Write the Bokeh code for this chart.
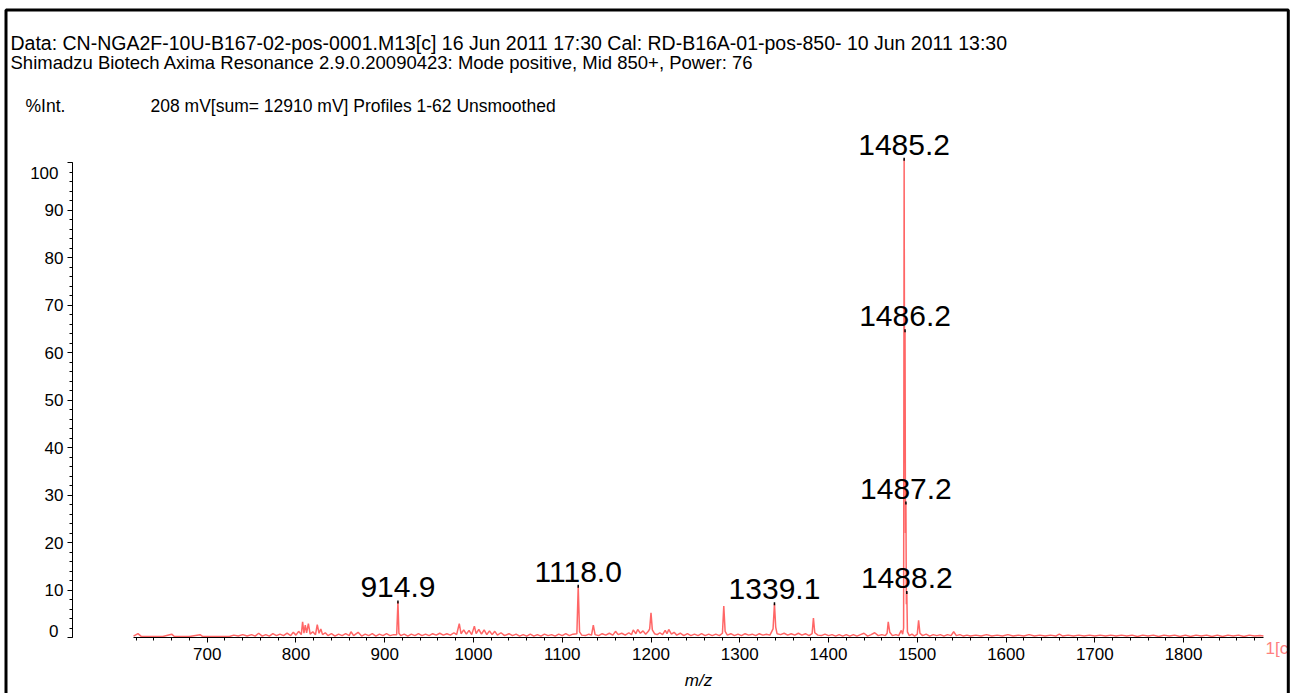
from bokeh.plotting import figure
from bokeh.models import (FixedTicker, Range1d, Label, LabelSet, BoxAnnotation,
                          ColumnDataSource, LinearAxis)
from bokeh.embed import file_html
from bokeh.resources import INLINE
from bokeh.core.properties import value

# ---------------- data ----------------
header_line1 = "Data: CN-NGA2F-10U-B167-02-pos-0001.M13[c] 16 Jun 2011 17:30 Cal: RD-B16A-01-pos-850- 10 Jun 2011 13:30"
header_line2 = "Shimadzu Biotech Axima Resonance 2.9.0.20090423: Mode positive, Mid 850+, Power: 76"
int_label = "%Int."
info_label = "208 mV[sum= 12910 mV]  Profiles 1-62 Unsmoothed"
x_label = "m/z"
corner_label = "1[c"

x_major = [700, 800, 900, 1000, 1100, 1200, 1300, 1400, 1500, 1600, 1700, 1800]
y_major = [0, 10, 20, 30, 40, 50, 60, 70, 80, 90, 100]

# spectrum profile (m/z, %Int.)
mz_a = [617, 622, 626, 640, 650, 660, 663, 680, 692, 695, 710, 725, 730,
        735, 740, 745, 750, 754, 758, 762, 766, 770, 774, 778, 782, 786, 790, 794, 797,
        800, 803, 806, 807.5, 809, 810.5, 812, 814, 816, 819, 822, 824, 826, 828, 830,
        833, 836, 840, 844, 848, 852, 856, 860, 862, 865, 870, 874, 878, 882, 886, 890,
        894, 898, 902, 906, 910, 913.5, 914.9]
int_a = [0.3, 0.8, 0.2, 0.2, 0.2, 0.7, 0.2, 0.2, 0.6, 0.2, 0.2, 0.2, 0.5,
         0.3, 0.6, 0.3, 0.6, 0.3, 0.9, 0.3, 0.6, 0.3, 0.8, 0.4, 0.7, 0.4, 0.9, 0.4, 1.1,
         0.5, 1.3, 0.6, 3.3, 0.9, 2.6, 1.0, 2.9, 0.7, 1.2, 0.6, 2.7, 0.9, 1.8, 0.6,
         1.0, 0.4, 0.8, 0.3, 0.7, 0.4, 0.8, 0.4, 1.2, 0.4, 1.1, 0.3, 0.7, 0.4, 0.8, 0.3,
         0.7, 0.4, 0.8, 0.4, 0.6, 0.6, 7.5]

mz_b = [916, 918, 922, 926, 930, 934, 938, 942, 946, 950, 954, 958, 962, 966, 970, 974,
        978, 981, 984, 986, 989, 992, 995, 998, 1001, 1003, 1006, 1009, 1012, 1015, 1018,
        1021, 1024, 1027, 1031, 1035, 1040, 1044, 1048, 1052, 1056, 1060, 1064, 1068,
        1072, 1076, 1080, 1084, 1088, 1092, 1096, 1100, 1104, 1108, 1112, 1116.5, 1118.0]
int_b = [0.9, 0.4, 0.7, 0.3, 0.7, 0.4, 0.8, 0.4, 0.7, 0.4, 0.8, 0.5, 0.9, 0.5, 0.8, 0.5,
         1.0, 0.6, 2.9, 0.8, 1.6, 0.7, 1.5, 0.6, 2.4, 0.8, 1.7, 0.7, 1.6, 0.6, 1.4,
         0.6, 1.3, 0.5, 1.0, 0.4, 0.8, 0.4, 0.7, 0.3, 0.6, 0.3, 0.7, 0.3,
         0.6, 0.3, 0.7, 0.4, 0.6, 0.3, 0.7, 0.4, 0.8, 0.4, 0.7, 0.8, 10.8]

mz_c = [1119.5, 1122, 1126, 1130, 1133, 1135, 1137, 1141, 1145, 1149, 1153, 1157, 1160,
        1163, 1167, 1171, 1175, 1178, 1180, 1183, 1185, 1188, 1191, 1194, 1197, 1198.5,
        1200, 1201.5, 1204, 1207, 1210, 1213, 1216, 1218, 1220, 1223, 1226, 1229, 1233,
        1237, 1241, 1245, 1249, 1253, 1257, 1261, 1265, 1269, 1273, 1277, 1280.5, 1282,
        1283.5, 1286, 1290, 1294, 1298, 1302, 1306, 1310, 1314, 1318, 1322, 1326, 1330,
        1334, 1337.5, 1339.1, 1340.5, 1342, 1346, 1350, 1354, 1358, 1362, 1366, 1370,
        1374, 1378, 1381.5, 1383, 1384.5]
int_c = [1.2, 0.5, 0.4, 0.7, 0.5, 2.6, 0.6, 0.4, 0.8, 0.5, 0.9, 0.5, 1.3,
         0.6, 0.9, 0.5, 1.0, 0.6, 1.6, 0.8, 1.7, 0.9, 1.4, 0.7, 1.3, 1.8,
         5.2, 1.6, 0.8, 0.6, 1.0, 0.6, 1.5, 0.8, 1.7, 0.7, 1.1, 0.5, 0.9,
         0.4, 0.8, 0.4, 0.7, 0.4, 0.8, 0.4, 0.7, 0.4, 0.7, 0.4, 0.9, 6.6,
         1.3, 0.5, 0.8, 0.4, 0.7, 0.4, 0.8, 0.5, 0.7, 0.4, 0.8, 0.5, 0.7,
         0.5, 1.8, 7.1, 2.2, 0.8, 0.6, 0.9, 0.5, 0.8, 0.5, 0.9, 0.5,
         0.8, 0.4, 0.8, 4.1, 1.0]

mz_d = [1388, 1392, 1396, 1400, 1404, 1408, 1412, 1416, 1420, 1424, 1428, 1432, 1436,
        1440, 1444, 1448, 1452, 1456, 1460, 1464, 1466, 1467.3, 1469, 1472, 1476, 1479,
        1482, 1483.5, 1484.6, 1485.2, 1485.7, 1486.2, 1486.7, 1487.2, 1487.7, 1488.2,
        1488.9, 1491, 1494, 1497, 1500, 1501.5, 1503, 1506, 1510, 1514, 1518, 1522,
        1526, 1530, 1534, 1538, 1541, 1544, 1548, 1552, 1556, 1560]
int_d = [0.5, 0.4, 0.7, 0.4, 0.6, 0.3, 0.6, 0.3, 0.6, 0.3, 0.6, 0.3, 0.6,
         0.9, 0.3, 0.6, 1.0, 0.4, 0.6, 0.4, 0.9, 3.3, 1.1, 0.4, 0.6, 0.4,
         1.5, 0.7, 2.0, 100.7, 45.0, 64.6, 22.0, 28.3, 7.0, 9.5,
         1.2, 0.4, 0.7, 0.3, 0.7, 3.6, 0.9, 0.4, 0.7, 0.3, 0.6, 0.4,
         0.6, 0.3, 0.6, 0.4, 1.2, 0.4, 0.6, 0.3, 0.5, 0.3]

mz_e = [1566, 1572, 1578, 1584, 1590, 1596, 1602, 1608, 1614, 1620, 1626, 1632, 1638,
        1644, 1650, 1656, 1660, 1664, 1670, 1676, 1682, 1688, 1694, 1700, 1706, 1712,
        1718, 1724, 1730, 1736, 1742, 1748, 1754, 1760, 1766, 1772, 1778, 1784, 1790,
        1796, 1802, 1808, 1814, 1820, 1826, 1832, 1838, 1844, 1850, 1856, 1862, 1868,
        1874, 1880, 1886, 1890]
int_e = [0.5, 0.3, 0.6, 0.3, 0.5, 0.3, 0.6, 0.3, 0.5, 0.3, 0.6, 0.3, 0.5,
         0.3, 0.5, 0.3, 0.7, 0.3, 0.5, 0.3, 0.5, 0.3, 0.5, 0.3, 0.5, 0.3,
         0.5, 0.3, 0.5, 0.3, 0.5, 0.2, 0.5, 0.3, 0.5, 0.2, 0.5, 0.3, 0.5,
         0.2, 0.5, 0.2, 0.5, 0.3, 0.5, 0.2, 0.5, 0.2, 0.5, 0.3, 0.5, 0.2,
         0.5, 0.3, 0.4, 0.3]

# labelled peaks
peak_mz = [914.9, 1118.0, 1339.1, 1485.2, 1486.2, 1487.2, 1488.2]
peak_int = [7.5, 10.8, 7.1, 100.7, 64.6, 28.3, 9.5]
peak_text = ["914.9", "1118.0", "1339.1", "1485.2", "1486.2", "1487.2", "1488.2"]

# ---------------- layout (canvas pixels; frame = whole canvas) ----------------
W, H = 1293, 693
PX_PER_X = 0.8876            # pixels per m/z unit
PX_PER_Y = 4.75              # pixels per %Int. unit
X0 = 700 - 206.7 / PX_PER_X  # m/z 700 sits at x = 206.7 px
X1 = X0 + W / PX_PER_X
Y1 = 637 / PX_PER_Y          # %Int. 0 sits at y = 637 px
Y0 = Y1 - H / PX_PER_Y


def px2x(px):
    return X0 + px / PX_PER_X


def px2y(py):
    return Y1 - py / PX_PER_Y


FONT = "Liberation Sans"
RED = "#ff6666"

p = figure(width=W, height=H, output_backend="svg", toolbar_location=None,
           x_range=Range1d(X0, X1), y_range=Range1d(Y0, Y1),
           min_border=0, min_border_left=0, min_border_right=0,
           min_border_top=0, min_border_bottom=0)
p.outline_line_color = None
p.xgrid.visible = False
p.ygrid.visible = False
p.background_fill_color = "white"
p.border_fill_color = "white"

mz_all = mz_a + mz_b + mz_c + mz_d + mz_e
int_all = int_a + int_b + int_c + int_d + int_e
p.line(mz_all, int_all, line_color=RED, line_width=1.5)

# apex marks
p.scatter(peak_mz, peak_int, marker="dash", angle=1.5708, size=3,
          line_color="black", line_width=1.5)

src = ColumnDataSource(dict(x=peak_mz, y=peak_int, t=peak_text))
p.add_layout(LabelSet(x="x", y="y", text="t", source=src, text_align="center",
                      text_baseline="alphabetic", y_offset=4.5,
                      text_font=value(FONT), text_font_size=value("30px"),
                      text_color="black"))


def style_axis(ax):
    ax.axis_line_color = "black"
    ax.axis_line_width = 1
    ax.major_tick_line_color = "black"
    ax.minor_tick_line_color = "black"
    ax.major_tick_in = 0
    ax.major_tick_out = 5
    ax.minor_tick_in = 0
    ax.minor_tick_out = 3
    ax.major_label_text_font = FONT
    ax.major_label_text_font_size = "17px"
    ax.major_label_text_color = "black"


xa = p.xaxis[0]
xa.ticker = FixedTicker(ticks=x_major, minor_ticks=list(range(620, 1900, 20)))
xa.bounds = (616.6, 1890.4)
xa.fixed_location = 0
style_axis(xa)
xa.major_label_standoff = 5

y_axis_x = px2x(72)
ya = p.yaxis[0]
ya.ticker = FixedTicker(ticks=y_major, minor_ticks=list(range(0, 101, 2)))
ya.bounds = (0, 100)
ya.fixed_location = y_axis_x
style_axis(ya)
ya.major_label_standoff = 4
# end labels are drawn pulled inward (below 100, above 0), as in the original
ya.major_label_overrides = {0: "", 100: ""}

end_pos = [px2y(630), px2y(172)]
end_text = ["0", "100"]
ya_end = LinearAxis(ticker=FixedTicker(ticks=end_pos, minor_ticks=[]),
                    major_label_overrides={end_pos[0]: end_text[0], end_pos[1]: end_text[1]},
                    fixed_location=y_axis_x)
style_axis(ya_end)
ya_end.axis_line_color = None
ya_end.major_tick_line_color = None
ya_end.major_label_standoff = 9
p.add_layout(ya_end, "left")


def add_text(txt, px, py, size="18.5px", align="left", color="black", style="normal"):
    p.add_layout(Label(x=px2x(px), y=px2y(py), text=txt, text_align=align,
                       text_baseline="middle", text_font=FONT,
                       text_font_size=size, text_color=color,
                       text_font_style=style))


add_text(header_line1, 10, 42, size="19.5px")
add_text(header_line2, 10, 62, size="18.5px")
add_text(int_label, 25, 105, size="17.5px")
add_text(info_label, 150, 105, size="17.5px")
add_text(x_label, 698, 680, size="17px", align="center", style="italic")
add_text(corner_label, 1265, 648, size="17px", color="#ff8080")

# outer frame (top, left, right; bottom edge lies below the window)
p.add_layout(BoxAnnotation(left=px2x(5.5), right=px2x(1287.8), top=px2y(9.5),
                           bottom=px2y(720), fill_color=None, line_color="black",
                           line_alpha=1.0, line_width=3))

open("out.html", "w").write(file_html(p, INLINE))
